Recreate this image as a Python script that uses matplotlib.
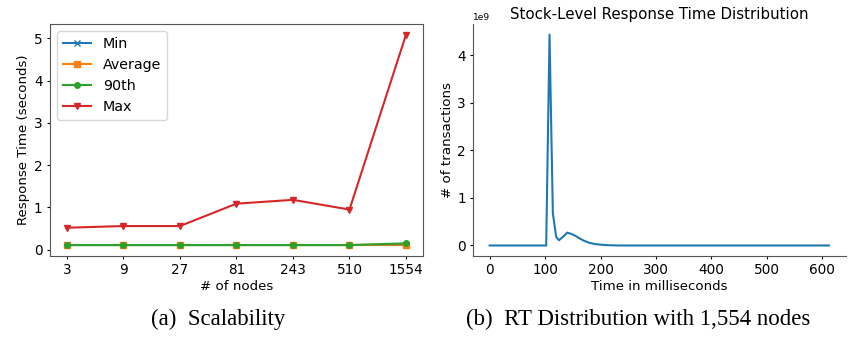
import matplotlib.pyplot as plt

# (a) scalability data
nodes = ["3", "9", "27", "81", "243", "510", "1554"]
rt_min = [0.10, 0.10, 0.10, 0.10, 0.10, 0.10, 0.10]
rt_avg = [0.11, 0.11, 0.11, 0.11, 0.11, 0.11, 0.12]
rt_90 = [0.11, 0.11, 0.11, 0.11, 0.11, 0.11, 0.15]
rt_max = [0.52, 0.56, 0.56, 1.09, 1.18, 0.95, 5.09]

# (b) response time distribution, counts in units of 1e9
t_ms = [0, 102, 108, 114, 120, 125, 132, 140, 148, 155, 162, 170, 180, 190, 198, 210, 230, 612]
counts = [0, 0, 4.43, 0.68, 0.18, 0.11, 0.18, 0.27, 0.24, 0.20, 0.15, 0.10, 0.055, 0.03, 0.02, 0.008, 0.0, 0.0]

fig = plt.figure(figsize=(8.56, 3.39), dpi=100)

ax1 = fig.add_axes([0.0584, 0.2448, 0.4357, 0.684])
x = list(range(len(nodes)))
ax1.plot(x, rt_min, marker="x", markersize=4, label="Min")
ax1.plot(x, rt_avg, marker="s", markersize=4, label="Average")
ax1.plot(x, rt_90, marker="o", markersize=4, label="90th")
ax1.plot(x, rt_max, marker="v", markersize=4, label="Max")
ax1.set_xticks(x)
ax1.set_xticklabels(nodes)
ax1.set_xlabel("# of nodes", fontsize=9.6, labelpad=2)
ax1.set_ylabel("Response Time (seconds)", fontsize=9.6, labelpad=3)
ax1.tick_params(labelsize=9.8, length=2.5, pad=2.8)
ax1.legend(loc="upper left", fontsize=10.3)
for s in ax1.spines.values():
    s.set_color("#555555")

ax2 = fig.add_axes([0.5522, 0.2448, 0.436, 0.684])
ax2.plot(t_ms, [c * 1e9 for c in counts], color="#1f77b4", linewidth=1.5)
ax2.spines["top"].set_visible(False)
ax2.spines["right"].set_visible(False)
for s in ("left", "bottom"):
    ax2.spines[s].set_color("#555555")
ax2.set_title("Stock-Level Response Time Distribution", fontsize=10.8, pad=3.5)
ax2.set_xlabel("Time in milliseconds", fontsize=9.6, labelpad=2)
ax2.set_ylabel("# of transactions", fontsize=9.6, labelpad=2)
ax2.tick_params(labelsize=9.8, length=2.5, pad=2.5)
ax2.yaxis.get_offset_text().set_fontsize(6.5)

fig.text(0.255, 0.04, "(a)  Scalability", ha="center", fontsize=16.5,
         family="Liberation Serif")
fig.text(0.746, 0.04, "(b)  RT Distribution with 1,554 nodes", ha="center",
         fontsize=16.5, family="Liberation Serif")

fig.savefig("out.png", dpi=100)
